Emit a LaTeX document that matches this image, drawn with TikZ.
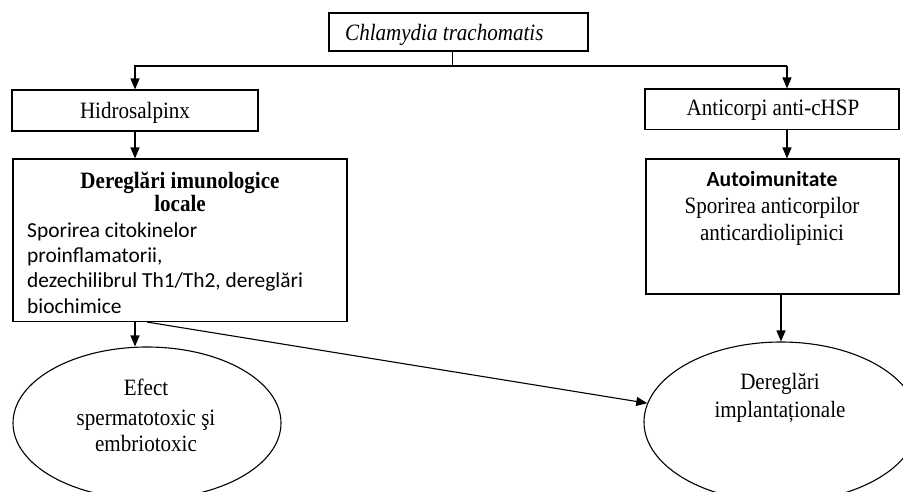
\documentclass[tikz,border=0pt]{standalone}
\usepackage{fontspec}
\setmainfont{Liberation Serif}[FakeStretch=0.9]
\newfontfamily\calibrifont{Carlito}
\usetikzlibrary{arrows.meta,shapes.geometric}

\begin{document}
\begin{tikzpicture}[x=1pt,y=-1pt,
  box/.style={draw, line width=1.1pt, rectangle, inner sep=0pt},
  oval/.style={draw, line width=1.1pt, ellipse, inner sep=0pt},
  lbl/.style={anchor=base, inner sep=0pt, font=\fontsize{23.4}{25}\selectfont},
  lblcal/.style={anchor=base west, inner sep=0pt, font=\calibrifont\fontsize{21.4}{25}\selectfont},
  link/.style={line width=1.1pt, -{Triangle[length=11pt,width=9pt]}},
  plain/.style={line width=1.1pt}]

\useasboundingbox (0,0) rectangle (903,491);
\clip (0,0) rectangle (903,491);

% boxes and ellipses
\node[box, minimum width=259pt, minimum height=38pt]   (top)   at (458.5,32)   {};
\node[box, minimum width=246pt, minimum height=41pt]   (hid)   at (135,110.5)  {};
\node[box, minimum width=254pt, minimum height=40.5pt] (anti)  at (772,109.25) {};
\node[box, minimum width=334pt, minimum height=162.5pt](dereg) at (180,240.25) {};
\node[box, minimum width=253pt, minimum height=135pt]  (auto)  at (772.5,226.5){};
\node[oval, minimum width=268pt, minimum height=152pt] (eff)   at (147,423)    {};
\node[oval, minimum width=274pt, minimum height=160pt] (impl)  at (781,422)    {};

% texts
\node[lbl, anchor=base west, font=\itshape\fontsize{23.4}{25}\selectfont] (ttop) at (345,40.5) {Chlamydia trachomatis};
\node[lbl] (thid)  at (135,118.3) {Hidrosalpinx};
\node[lbl] (tanti) at (773,115.7) {Anticorpi anti-cHSP};

\node[lbl, font=\bfseries\fontsize{23.4}{25}\selectfont] (td1) at (180,188.3) {Dereglări imunologice};
\node[lbl, font=\bfseries\fontsize{23.4}{25}\selectfont] (td2) at (180,211.7) {locale};
\node[lblcal] (td3) at (27,237.3) {Sporirea citokinelor};
\node[lblcal] (td4) at (27,262.7) {proinflamatorii,};
\node[lblcal] (td5) at (27,287.7) {dezechilibrul Th1/Th2, dereglări};
\node[lblcal] (td6) at (27,313.3) {biochimice};

\node[lbl, font=\calibrifont\bfseries\fontsize{21.6}{25}\selectfont] (ta1) at (772,186) {Autoimunitate};
\node[lbl] (ta2) at (772,213.3) {Sporirea anticorpilor};
\node[lbl] (ta3) at (772,240.7) {anticardiolipinici};

\node[lbl] (te1) at (146,395)   {Efect};
\node[lbl] (te2) at (146,425)   {spermatotoxic şi};
\node[lbl] (te3) at (146,451.7) {embriotoxic};

\node[lbl] (ti1) at (780,389)   {Dereglări};
\node[lbl] (ti2) at (780,417.3) {implantaționale};

% connectors
\coordinate (split) at (452.5,66);
\coordinate (rdrop) at (787,66);
\draw[plain] (top.south -| split) -- (split);
\draw[plain] (split) -- (rdrop);
\draw[link] (split) -| (hid.north);
\draw[link] (rdrop) -- (rdrop |- anti.north);
\draw[link] (hid.south) -- (hid.south |- dereg.north);
\draw[link] (rdrop |- anti.south) -- (rdrop |- auto.north);
\draw[link] (hid.south |- dereg.south) -- (hid.south |- eff.north);
\draw[link] (dereg.south -| eff.north) -- (impl.172);
\draw[link] (auto.south -| impl.north) -- (impl.north);
\end{tikzpicture}
\end{document}
